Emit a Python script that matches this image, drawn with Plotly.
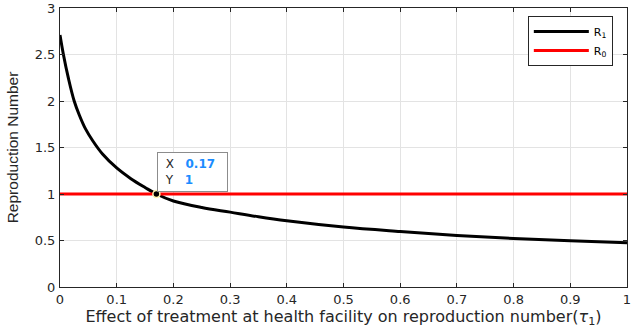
import plotly.graph_objects as go

# Data
tau = [0, 0.006, 0.015, 0.025, 0.034, 0.045, 0.058, 0.075, 0.1, 0.125, 0.15,
       0.17, 0.2, 0.25, 0.3, 0.35, 0.4, 0.5, 0.6, 0.7, 0.8, 0.9, 1.0]
r1 = [2.71, 2.50, 2.24, 2.00, 1.85, 1.70, 1.57, 1.43, 1.28, 1.165, 1.07,
      1.00, 0.925, 0.855, 0.805, 0.755, 0.712, 0.645, 0.597, 0.555, 0.522, 0.496, 0.476]
r0_x = [0, 1]
r0 = [1, 1]
tip_x = 0.17
tip_y = 1

x_ticks = [0, 0.1, 0.2, 0.3, 0.4, 0.5, 0.6, 0.7, 0.8, 0.9, 1]
x_ticklabels = ["0", "0.1", "0.2", "0.3", "0.4", "0.5", "0.6", "0.7", "0.8", "0.9", "1"]
y_ticks = [0, 0.5, 1, 1.5, 2, 2.5, 3]
y_ticklabels = ["0", "0.5", "1", "1.5", "2", "2.5", "3"]

AX = "#262626"
GRID = "#e3e3e3"
FONT = "DejaVu Sans"

fig = go.Figure()
fig.add_trace(go.Scatter(x=tau, y=r1, mode="lines", name="R<sub>1</sub>",
                         line=dict(color="black", width=3, shape="spline", smoothing=1)))
fig.add_trace(go.Scatter(x=r0_x, y=r0, mode="lines", name="R<sub>0</sub>",
                         line=dict(color="#ff0000", width=3)))
fig.add_trace(go.Scatter(x=[tip_x], y=[tip_y], mode="markers", showlegend=False,
                         marker=dict(color="black", size=7,
                                     line=dict(color="#fff6b0", width=1.5))))

fig.add_annotation(x=tip_x, y=tip_y, xref="x", yref="y", xanchor="left", yanchor="bottom",
                   xshift=1, yshift=2, showarrow=False, align="left",
                   text=("&nbsp;<span style='color:#262626'>X</span>&nbsp;&nbsp;&nbsp;"
                         "<span style='color:#1a8cff'><b>%s</b></span>&nbsp;&nbsp;<br>"
                         "&nbsp;<span style='color:#262626'>Y</span>&nbsp;&nbsp;&nbsp;"
                         "<span style='color:#1a8cff'><b>%s</b></span>") % ("0.17", "1"),
                   font=dict(family=FONT, size=12),
                   bgcolor="white", bordercolor="#8c8c8c", borderwidth=1, borderpad=4)

fig.update_layout(
    width=632, height=329,
    margin=dict(l=60, r=5, t=8, b=42, autoexpand=False),
    paper_bgcolor="white", plot_bgcolor="white",
    font=dict(family=FONT, size=13, color=AX),
    showlegend=True,
    legend=dict(x=0.975, y=0.971, xanchor="right", yanchor="top",
                bgcolor="white", bordercolor=AX, borderwidth=1,
                font=dict(family=FONT, size=11, color="black"),
                itemwidth=55, tracegroupgap=0),
)
fig.update_xaxes(range=[0, 1], tickvals=x_ticks, ticktext=x_ticklabels,
                 showgrid=True, gridcolor=GRID, gridwidth=1, zeroline=False,
                 showline=True, linecolor=AX, linewidth=1, mirror="allticks",
                 ticks="inside", ticklen=4, tickcolor=AX, automargin=False,
                 tickfont=dict(family=FONT, size=13, color=AX),
                 title=dict(text="Effect of treatment at health facility on reproduction number(<i>τ</i><sub>1</sub>)",
                            font=dict(family=FONT, size=16, color=AX), standoff=2))
fig.update_yaxes(range=[0, 3], tickvals=y_ticks, ticktext=y_ticklabels,
                 showgrid=True, gridcolor=GRID, gridwidth=1, zeroline=False,
                 showline=True, linecolor=AX, linewidth=1, mirror="allticks",
                 ticks="inside", ticklen=4, tickcolor=AX, automargin=False,
                 tickfont=dict(family=FONT, size=13, color=AX),
                 ticklabelstandoff=1,
                 title=dict(text="Reproduction Number",
                            font=dict(family="Liberation Sans", size=15.5, color=AX), standoff=12))

fig.write_html("out.html", config={"displayModeBar": False},
               post_script="document.body.style.margin='0';")
